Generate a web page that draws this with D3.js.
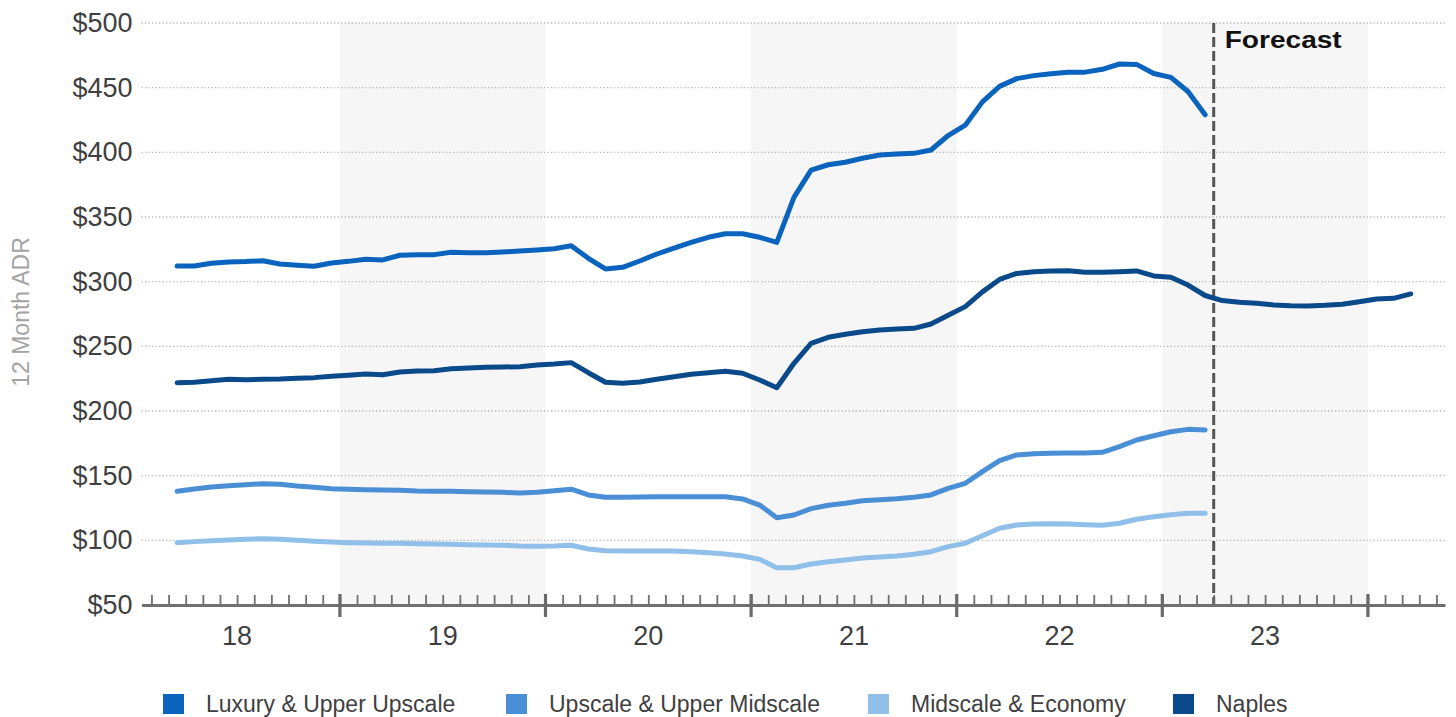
<!DOCTYPE html>
<html>
<head>
<meta charset="utf-8">
<script src="https://cdn.jsdelivr.net/npm/d3@7"></script>
<style>
  body { margin: 0; background: #fff; }
  svg { display: block; font-family: "Liberation Sans", Arial, sans-serif; }
</style>
</head>
<body>
<svg id="chart"></svg>
<script>
// month index: 0 = Jan 2018. history runs Mar 2018 - Mar 2023, Naples forecast to Mar 2024
var firstMonth = 2;
var forecastStart = 63;
var yearLabels = ["18", "19", "20", "21", "22", "23"];
var yTicks = [50, 100, 150, 200, 250, 300, 350, 400, 450, 500];

var seriesNames = ["Luxury & Upper Upscale", "Upscale & Upper Midscale", "Midscale & Economy", "Naples"];
var seriesColors = ["#0a63bd", "#4a8fd6", "#90bfe9", "#0b4a8a"];

var luxury = [312.1, 312.1, 314.2, 315.2, 315.5, 316.2, 313.7, 312.7, 311.9, 314.4, 315.7, 317.3, 316.8, 320.4,
  320.9, 320.9, 322.7, 322.4, 322.4, 323, 323.7, 324.5, 325.5,
  327.8, 318.1, 309.8, 311.1, 316, 321.4, 326, 330.4, 334.3, 337.1, 337.1, 334.3, 330.4,
  365.2, 386.3, 390.4, 392.3, 395.4, 397.9, 398.7, 399.2, 401.8,
  413, 421, 439, 451, 457, 459.3, 460.8, 462, 462, 464.2, 468.3, 468, 461, 458, 447, 429];

var upscale = [137.9, 139.7, 141.2, 142.2, 143, 143.8, 143.3, 142, 141, 139.9, 139.5, 139.2, 138.9, 138.7,
  138.1, 137.9, 137.9, 137.6, 137.4, 137.1, 136.6, 137.1, 138.4,
  139.5, 135.1, 133.3, 133.3, 133.5, 133.7, 133.7, 133.7, 133.7, 133.7, 132, 127.3, 117.5,
  119.6, 124.5, 127.1, 128.6, 130.6, 131.4, 132.2, 133.3, 135.1,
  140.2, 144.1, 153.1, 161.6, 166, 167, 167.3, 167.5, 167.5, 168.1, 172.4, 177.6, 180.9, 184, 185.8, 185.3];

var midscale = [98.2, 99, 99.7, 100.3, 100.8, 101.3, 100.8, 100, 99.3, 98.7, 98.2, 97.9, 97.7, 97.7,
  97.4, 97.2, 96.9, 96.6, 96.4, 96.2, 95.6, 95.4, 95.6,
  96.2, 93.3, 92, 91.8, 91.8, 91.8, 91.8, 91.2, 90.4, 89.4, 87.9, 85.3, 78.8,
  78.8, 81.7, 83.5, 84.8, 86.3, 87.1, 87.9, 89.2, 91.2,
  95.1, 97.7, 103.6, 109.3, 111.9, 112.6, 112.9, 112.6, 112.1, 111.6, 113.2, 116.3, 118.3, 119.8, 120.9, 120.9];

var naples = [221.9, 222.2, 223.4, 224.5, 224.2, 224.5, 224.7, 225.3, 225.8, 226.8, 227.6, 228.6, 228.1, 230.2,
  231, 231.2, 232.7, 233.3, 233.8, 234, 234.3, 235.6, 236.3,
  237.4, 229.6, 222.2, 221.4, 222.4, 224.5, 226.5, 228.4, 229.6, 230.7, 229.2, 224, 218,
  236.9, 252.3, 257, 259.3, 261.3, 262.6, 263.4, 263.9, 267.3,
  274, 280.7, 292.1, 301.7, 306.4, 307.7, 308.3, 308.5, 307.2, 307.2, 307.7, 308.3, 304.4, 303.4, 297.4, 289.3,
  285.4, 284.1, 283.3, 282, 281.4, 281.2, 281.7, 282.5, 284.5, 286.6, 287.1, 290.5];

var svgWidth = 1456, svgHeight = 717;
var plotLeft = 141.5, plotRight = 1445, plotTop = 23, plotBottom = 605;

var svg = d3.select("#chart")
  .attr("width", svgWidth)
  .attr("height", svgHeight);

var x = d3.scaleLinear().domain([0.42, 76.5]).range([plotLeft, plotRight]);
var y = d3.scaleLinear().domain([50, 500]).range([plotBottom, plotTop]);

// shaded alternate years (19, 21, 23)
svg.append("g").selectAll("rect")
  .data([1, 3, 5])
  .enter()
  .append("rect")
  .attr("x", function(d) { return x(d * 12); })
  .attr("width", function(d) { return x(d * 12 + 12) - x(d * 12); })
  .attr("y", plotTop)
  .attr("height", plotBottom - plotTop)
  .attr("fill", "#f6f6f6");

// dotted gridlines
svg.append("g").selectAll("line")
  .data(yTicks.slice(1))
  .enter()
  .append("line")
  .attr("x1", plotLeft)
  .attr("x2", plotRight)
  .attr("y1", function(d) { return y(d); })
  .attr("y2", function(d) { return y(d); })
  .attr("stroke", "#b8b8b8")
  .attr("stroke-width", 1.3)
  .attr("stroke-dasharray", "1.3,2.2");

// y axis labels
var yAxis = svg.append("g")
  .attr("transform", "translate(" + plotLeft + ",0)")
  .call(d3.axisLeft(y).tickValues(yTicks).tickSize(0).tickPadding(9)
    .tickFormat(function(d) { return "$" + d; }));
yAxis.select(".domain").remove();
yAxis.selectAll("text")
  .attr("font-size", 27)
  .attr("fill", "#3f3f3f")
  .attr("font-family", "Liberation Sans, Arial, sans-serif");

svg.append("text")
  .attr("transform", "translate(29,312) rotate(-90)")
  .attr("text-anchor", "middle")
  .attr("font-size", 23)
  .attr("fill", "#a3a3a3")
  .text("12 Month ADR");

// forecast divider
svg.append("line")
  .attr("x1", x(forecastStart))
  .attr("x2", x(forecastStart))
  .attr("y1", plotTop)
  .attr("y2", plotBottom)
  .attr("stroke", "#555")
  .attr("stroke-width", 3)
  .attr("stroke-dasharray", "10,4");

svg.append("text")
  .attr("transform", "translate(" + (x(forecastStart) + 11) + ",48) scale(1.17,1)")
  .attr("font-size", 24)
  .attr("font-weight", "bold")
  .attr("fill", "#111")
  .text("Forecast");

// lines
var line = d3.line()
  .x(function(d, i) { return x(firstMonth + i + 0.5); })
  .y(function(d) { return y(d); });

var allSeries = [midscale, upscale, naples, luxury];
var allColors = [seriesColors[2], seriesColors[1], seriesColors[3], seriesColors[0]];

svg.append("g").selectAll("path")
  .data(allSeries)
  .enter()
  .append("path")
  .attr("d", line)
  .attr("fill", "none")
  .attr("stroke", function(d, i) { return allColors[i]; })
  .attr("stroke-width", 5)
  .attr("stroke-linejoin", "round")
  .attr("stroke-linecap", "round");

// x axis: minor month ticks pointing up
var xAxis = svg.append("g")
  .attr("transform", "translate(0," + plotBottom + ")")
  .call(d3.axisBottom(x).tickValues(d3.range(1, 77)).tickSizeInner(-10).tickSizeOuter(0).tickFormat(""));
xAxis.select(".domain")
  .attr("stroke", "#707070")
  .attr("stroke-width", 3);
xAxis.selectAll(".tick line")
  .attr("stroke", "#707070")
  .attr("stroke-width", 1.8);

// major year ticks
svg.append("g").selectAll("line")
  .data(d3.range(12, 76, 12))
  .enter()
  .append("line")
  .attr("x1", function(d) { return x(d); })
  .attr("x2", function(d) { return x(d); })
  .attr("y1", plotBottom - 11)
  .attr("y2", plotBottom + 12)
  .attr("stroke", "#6a6a6a")
  .attr("stroke-width", 3.2);

// year labels
svg.append("g").selectAll("text")
  .data(yearLabels)
  .enter()
  .append("text")
  .attr("x", function(d, i) { return x(6 + i * 12); })
  .attr("y", 645)
  .attr("text-anchor", "middle")
  .attr("font-size", 27)
  .attr("fill", "#3f3f3f")
  .text(function(d) { return d; });

// legend
var legendX = [163, 506, 868, 1173];
var legend = svg.append("g").selectAll("g")
  .data(seriesNames)
  .enter()
  .append("g")
  .attr("transform", function(d, i) { return "translate(" + legendX[i] + ",694)"; });

legend.append("rect")
  .attr("width", 21)
  .attr("height", 20)
  .attr("fill", function(d, i) { return seriesColors[i]; });

legend.append("text")
  .attr("x", 43)
  .attr("y", 18)
  .attr("font-size", 23)
  .attr("fill", "#3f3f3f")
  .text(function(d) { return d; });
</script>
</body>
</html>
